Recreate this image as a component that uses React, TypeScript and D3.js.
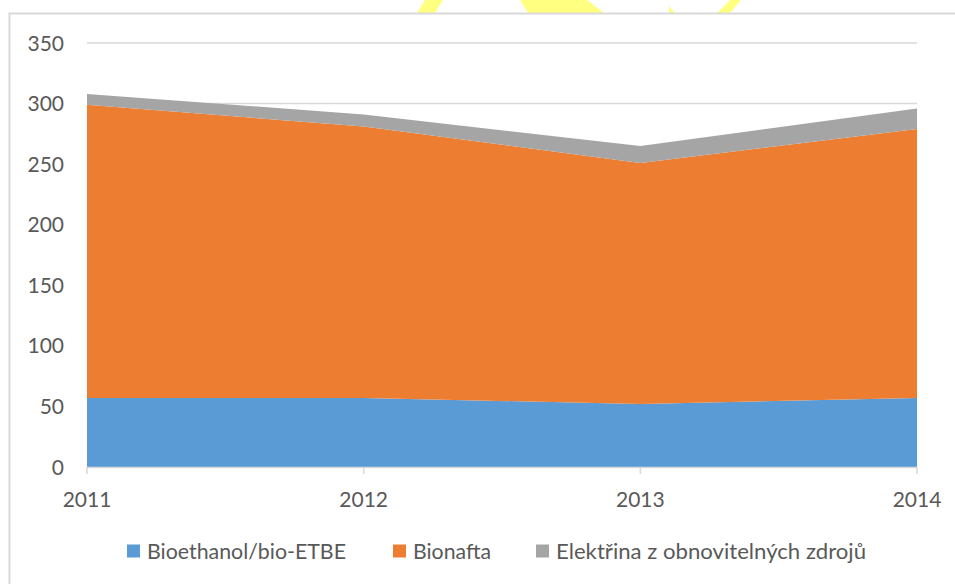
import { useRef, useEffect } from "react";
import * as d3 from "d3";

const years = ["2011", "2012", "2013", "2014"];
const bioethanol = [57, 57, 52, 57];
const bionafta = [242, 224, 199, 222];
const elektrina = [9, 10, 14, 17];
const seriesNames = ["Bioethanol/bio-ETBE", "Bionafta", "Elektřina z obnovitelných zdrojů"];
const seriesColors = ["#5B9BD5", "#ED7D31", "#A5A5A5"];
const yTicks = [0, 50, 100, 150, 200, 250, 300, 350];

type Row = { year: string; s0: number; s1: number; s2: number };

const App = () => {
  const ref = useRef<SVGSVGElement | null>(null);

  useEffect(() => {
    if (!ref.current) return;
    const svg = d3.select(ref.current);
    svg.selectAll("*").remove();

    const width = 955;
    const height = 584;
    const font = "Lato, 'Open Sans', sans-serif";
    const textColor = "#595959";

    const rows: Row[] = years.map((y, i) => ({
      year: y,
      s0: bioethanol[i],
      s1: bionafta[i],
      s2: elektrina[i],
    }));

    const x = d3.scalePoint<string>().domain(years).range([87, 917]);
    const y = d3.scaleLinear().domain([0, 350]).range([467, 43]);

    // watermark fragment at the top edge
    const marks = [
      [[425, 0], [443, 0], [435, 13], [417, 13]],
      [[520, 0], [587, 0], [604, 13], [528, 13]],
      [[669, 6], [669, 13], [675, 13]],
      [[730, 0], [741, 0], [730, 13], [717, 13]],
    ];
    svg
      .append("g")
      .selectAll("polygon")
      .data(marks)
      .join("polygon")
      .attr("points", (d) => d.map((p) => p.join(",")).join(" "))
      .attr("fill", "#FFFF80");

    // chart frame
    svg
      .append("rect")
      .attr("x", 9.5)
      .attr("y", 13.5)
      .attr("width", width + 20)
      .attr("height", height + 20)
      .attr("fill", "none")
      .attr("stroke", "#D9D9D9")
      .attr("stroke-width", 2);

    // gridlines
    svg
      .append("g")
      .selectAll("line")
      .data(yTicks)
      .join("line")
      .attr("x1", 87)
      .attr("x2", 917)
      .attr("y1", (d) => y(d))
      .attr("y2", (d) => y(d))
      .attr("stroke", "#D9D9D9")
      .attr("stroke-width", 1.5);

    // stacked areas
    const stack = d3.stack<Row>().keys(["s0", "s1", "s2"]);
    const layers = stack(rows);
    const area = d3
      .area<d3.SeriesPoint<Row>>()
      .x((d) => x(d.data.year) ?? 0)
      .y0((d) => y(d[0]))
      .y1((d) => y(d[1]));

    svg
      .append("g")
      .selectAll("path")
      .data(layers)
      .join("path")
      .attr("d", (d) => area(d) ?? "")
      .attr("fill", (_, i) => seriesColors[i]);

    // x axis
    const axis = svg.append("g");
    axis
      .append("line")
      .attr("x1", 87)
      .attr("x2", 917)
      .attr("y1", y(0) + 0.5)
      .attr("y2", y(0) + 0.5)
      .attr("stroke", "#D9D9D9")
      .attr("stroke-width", 1.5);
    axis
      .selectAll("line.tick")
      .data(years)
      .join("line")
      .attr("class", "tick")
      .attr("x1", (d) => x(d) ?? 0)
      .attr("x2", (d) => x(d) ?? 0)
      .attr("y1", y(0))
      .attr("y2", y(0) + 7)
      .attr("stroke", "#D9D9D9")
      .attr("stroke-width", 1.5);
    axis
      .selectAll("text")
      .data(years)
      .join("text")
      .attr("x", (d) => x(d) ?? 0)
      .attr("y", 507)
      .attr("text-anchor", "middle")
      .attr("font-family", font)
      .attr("font-size", 21)
      .attr("fill", textColor)
      .text((d) => d);

    // y labels
    svg
      .append("g")
      .selectAll("text")
      .data(yTicks)
      .join("text")
      .attr("x", 64)
      .attr("y", (d) => y(d) + 7.5)
      .attr("text-anchor", "end")
      .attr("font-family", font)
      .attr("font-size", 21)
      .attr("fill", textColor)
      .text((d) => d);

    // legend
    const legendX = [127, 393, 536];
    const legendW = [199, 78, 310];
    const legend = svg
      .append("g")
      .selectAll("g")
      .data(seriesNames)
      .join("g")
      .attr("transform", (_, i) => `translate(${legendX[i]},551)`);
    legend
      .append("rect")
      .attr("x", 0)
      .attr("y", -6.5)
      .attr("width", 13)
      .attr("height", 13)
      .attr("fill", (_, i) => seriesColors[i]);
    legend
      .append("text")
      .attr("x", 20)
      .attr("y", 7.5)
      .attr("font-family", font)
      .attr("font-size", 21)
      .attr("fill", textColor)
      .attr("textLength", (_, i) => legendW[i])
      .attr("lengthAdjust", "spacingAndGlyphs")
      .text((d) => d);
  }, []);

  return (
    <svg
      ref={ref}
      width={955}
      height={584}
      style={{ position: "absolute", left: 0, top: 0, background: "#fff" }}
    />
  );
};

export default App;
